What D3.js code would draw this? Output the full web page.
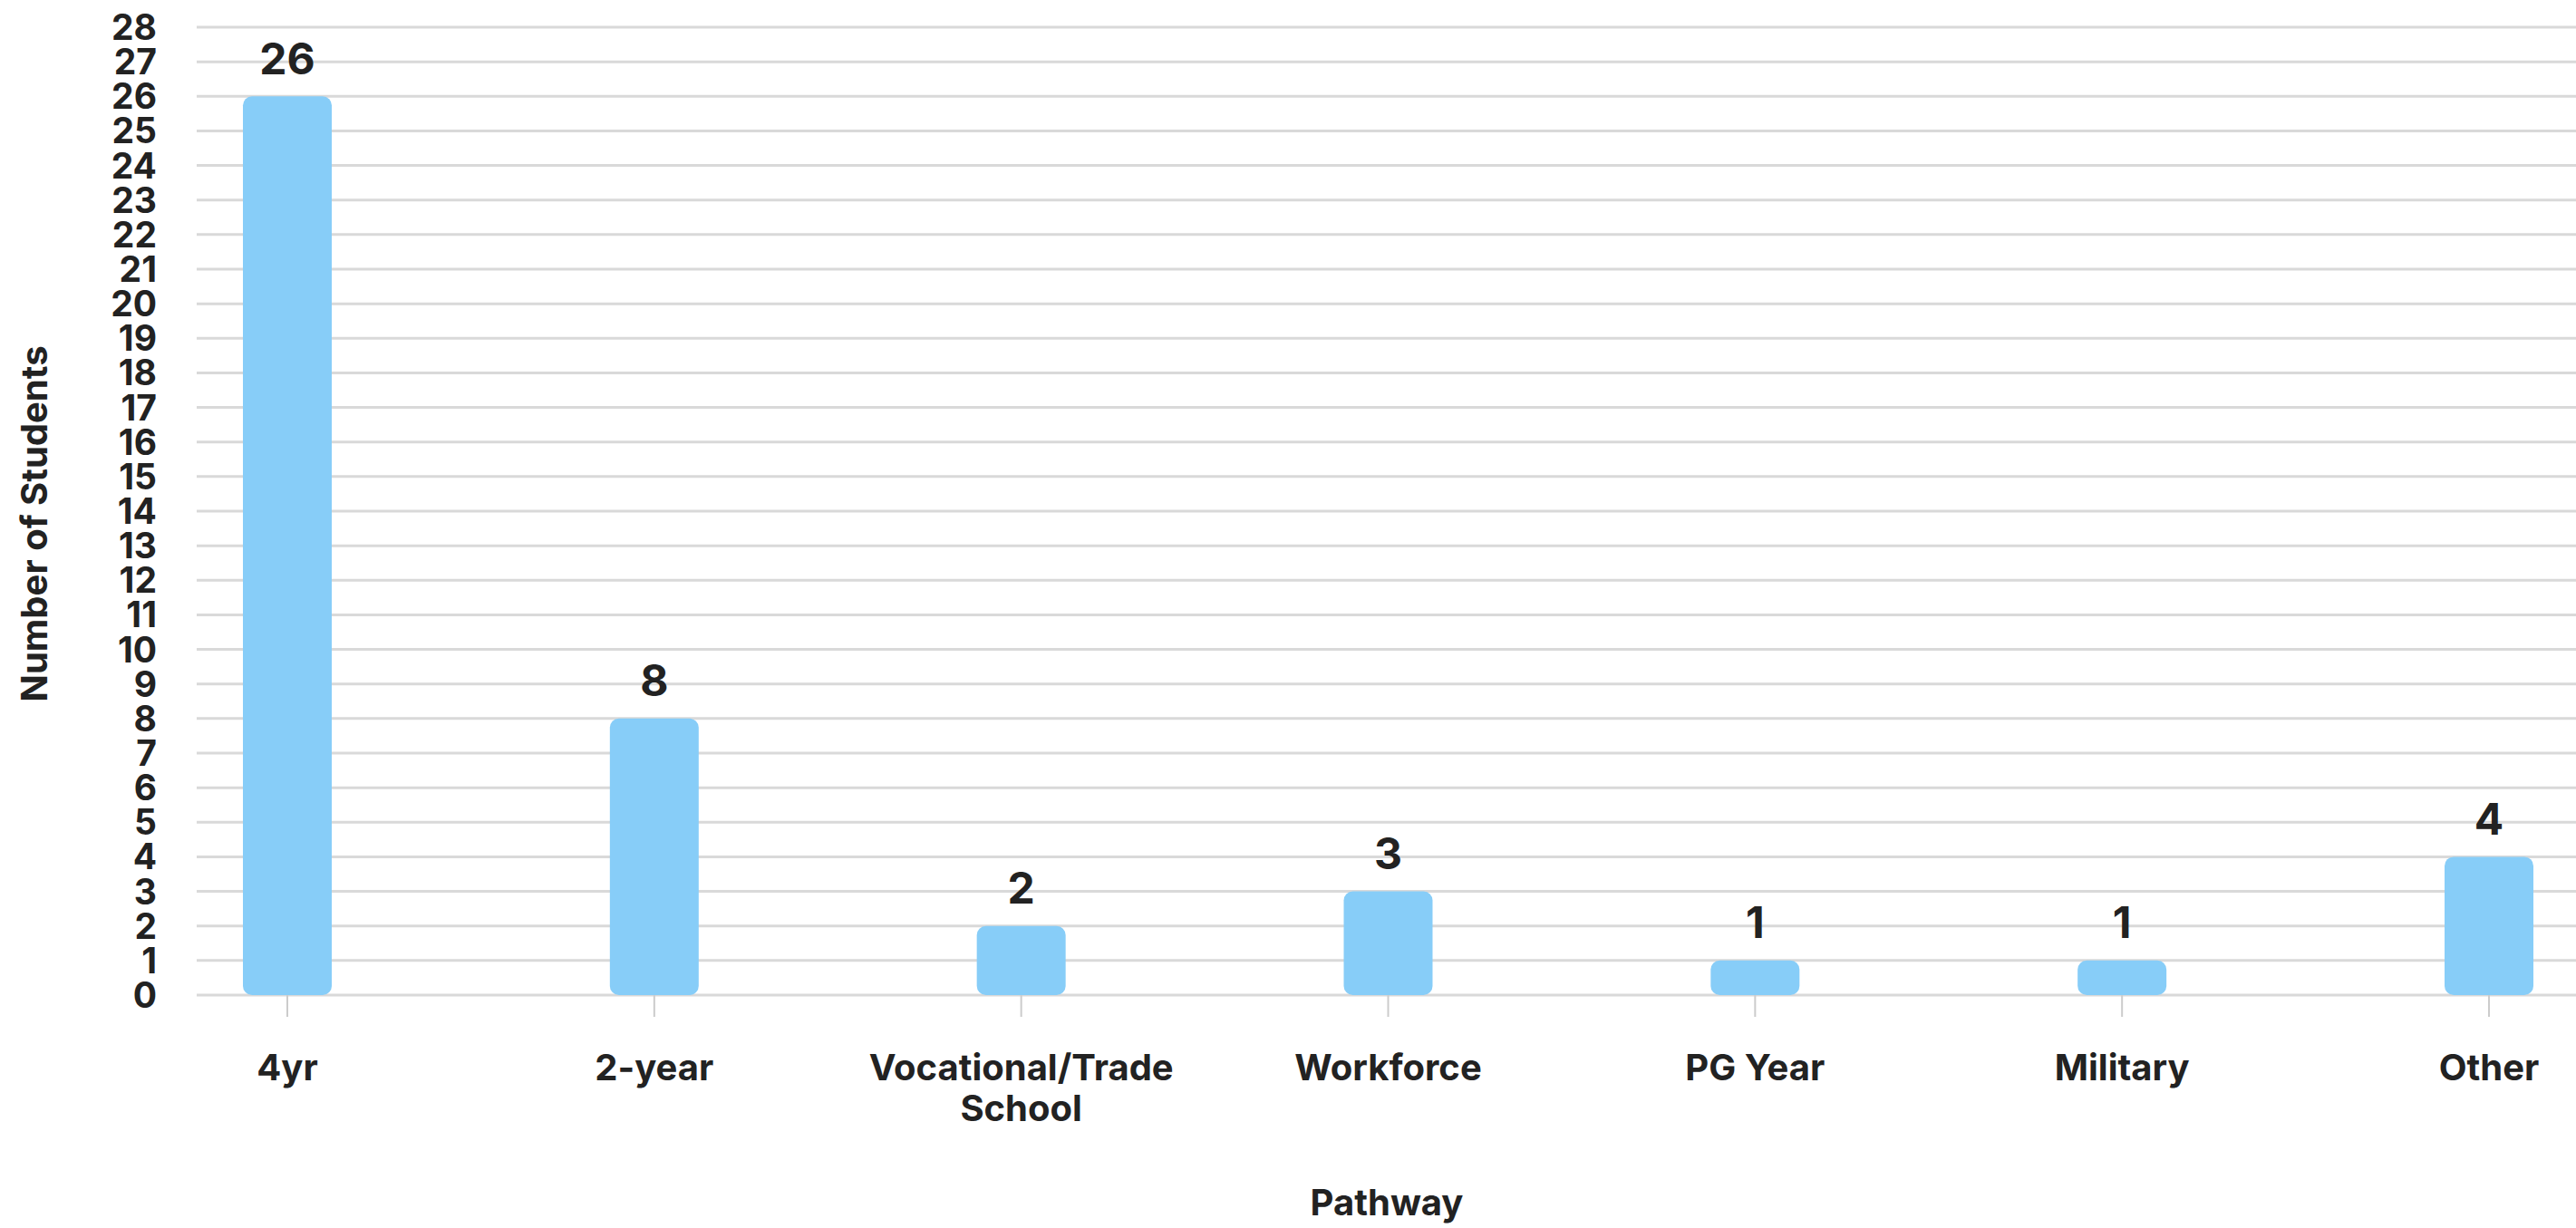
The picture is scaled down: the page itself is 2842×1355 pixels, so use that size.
<!DOCTYPE html>
<html>
<head>
<meta charset="utf-8">
<script src="https://cdn.jsdelivr.net/npm/d3@7"></script>
<style>
  html, body { margin: 0; padding: 0; background: #ffffff; }
  svg { display: block; }
  text { font-family: Inter, "Liberation Sans", sans-serif; fill: #222222; }
</style>
</head>
<body>
<svg id="chart" width="2842" height="1355"></svg>
<script>
const categories = ["4yr", "2-year", "Vocational/Trade School", "Workforce", "PG Year", "Military", "Other"];
const categoryLines = [["4yr"], ["2-year"], ["Vocational/Trade", "School"], ["Workforce"], ["PG Year"], ["Military"], ["Other"]];
const studentCounts = [26, 8, 2, 3, 1, 1, 4];
const yTickValues = d3.range(0, 29);
const xAxisTitle = "Pathway";
const yAxisTitle = "Number of Students";

const gridLeft = 217, gridRight = 2842;
const yTop = 30, yBottom = 1098;
const barWidth = 98;

const svg = d3.select("#chart");

const x = d3.scalePoint().domain(categories).range([317, 2746]);
const y = d3.scaleLinear().domain([0, 28]).range([yBottom, yTop]);

// gridlines
svg.append("g").selectAll("line").data(yTickValues).join("line")
  .attr("x1", gridLeft).attr("x2", gridRight)
  .attr("y1", d => y(d)).attr("y2", d => y(d))
  .attr("stroke", "#d9d9d9").attr("stroke-width", 3);

// y tick labels
svg.append("g").selectAll("text").data(yTickValues).join("text")
  .attr("x", 173).attr("y", d => y(d))
  .attr("dy", "0.36em")
  .attr("text-anchor", "end")
  .attr("font-size", 39).attr("font-weight", 700)
  .text(d => d);

// x ticks
svg.append("g").selectAll("line").data(categories).join("line")
  .attr("x1", d => x(d)).attr("x2", d => x(d))
  .attr("y1", yBottom).attr("y2", yBottom + 24)
  .attr("stroke", "#cccccc").attr("stroke-width", 2);

// bars
svg.append("g").selectAll("rect").data(categories).join("rect")
  .attr("x", d => x(d) - barWidth / 2)
  .attr("width", barWidth)
  .attr("y", (d, i) => y(studentCounts[i]))
  .attr("height", (d, i) => y(0) - y(studentCounts[i]))
  .attr("rx", 10).attr("ry", 10)
  .attr("fill", "#87CDF8");

// value labels
svg.append("g").selectAll("text").data(categories).join("text")
  .attr("x", d => x(d))
  .attr("y", (d, i) => y(studentCounts[i]) - 42)
  .attr("dy", "0.36em")
  .attr("text-anchor", "middle")
  .attr("font-size", 48).attr("font-weight", 700)
  .text((d, i) => studentCounts[i]);

// x labels
const xl = svg.append("g").selectAll("text").data(categories).join("text")
  .attr("x", d => x(d))
  .attr("y", 1178)
  .attr("text-anchor", "middle")
  .attr("font-size", 40).attr("font-weight", 700);
xl.selectAll("tspan").data((d, i) => categoryLines[i]).join("tspan")
  .attr("x", function() { return d3.select(this.parentNode).attr("x"); })
  .attr("dy", (d, j) => j === 0 ? "0.36em" : "1.12em")
  .text(d => d);

// axis titles
svg.append("text")
  .attr("x", 1530).attr("y", 1327).attr("dy", "0.36em")
  .attr("text-anchor", "middle")
  .attr("font-size", 40).attr("font-weight", 700)
  .text(xAxisTitle);

svg.append("text")
  .attr("transform", "translate(38,578) rotate(-90)")
  .attr("dy", "0.36em")
  .attr("text-anchor", "middle")
  .attr("font-size", 40).attr("font-weight", 700)
  .text(yAxisTitle);
</script>
</body>
</html>
